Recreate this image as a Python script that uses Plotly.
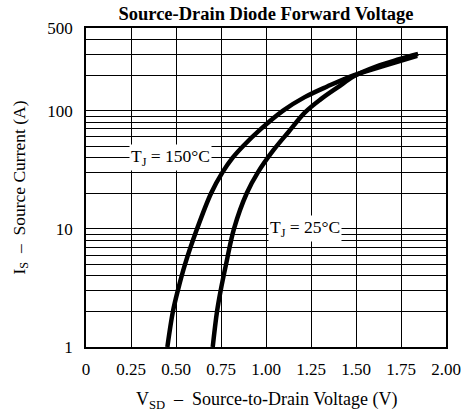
import math
import plotly.graph_objects as go

# Data
v_150 = [0.452, 0.483, 0.51, 0.55, 0.617, 0.695, 0.758, 0.815, 0.872, 0.972, 1.095, 1.215, 1.34, 1.49, 1.66, 1.84]
i_150 = [1, 2, 3, 5, 10, 20, 30, 40, 50, 70, 100, 130, 160, 200, 240, 290]
v_25 = [0.704, 0.728, 0.748, 0.778, 0.822, 0.893, 0.955, 1.04, 1.125, 1.218, 1.305, 1.40, 1.49, 1.615, 1.74, 1.845]
i_25 = [1, 2, 3, 5, 10, 20, 30, 46, 66, 97, 125, 158, 196, 237, 272, 302]

x_ticks = [0, 0.25, 0.5, 0.75, 1.0, 1.25, 1.5, 1.75, 2.0]
x_ticktext = ["0", "0.25", "0.50", "0.75", "1.00", "1.25", "1.50", "1.75", "2.00"]
y_grid = [1, 2, 3, 4, 5, 6, 7, 8, 9, 10, 20, 30, 40, 50, 60, 70, 80, 90, 100, 200, 300, 400, 500]
y_labels = {1: "1", 10: "10", 100: "100", 500: "500"}

FONT = "Liberation Serif"

fig = go.Figure()
fig.add_trace(go.Scatter(x=v_150, y=i_150, mode="lines",
                         line=dict(color="black", width=4.5, shape="spline", smoothing=1),
                         showlegend=False, hoverinfo="skip"))
fig.add_trace(go.Scatter(x=v_25, y=i_25, mode="lines",
                         line=dict(color="black", width=4.5, shape="spline", smoothing=1),
                         showlegend=False, hoverinfo="skip"))

fig.update_layout(
    width=463, height=415,
    margin=dict(l=86, r=17, t=28, b=68),
    paper_bgcolor="white", plot_bgcolor="white",
    font=dict(family=FONT, color="black", size=17),
    title=dict(text="<b>Source-Drain Diode Forward Voltage</b>", x=0.5, xref="paper",
               y=1 - 14 / 415, yref="container", xanchor="center", yanchor="middle",
               font=dict(family=FONT, size=18.5, color="black")),
)

fig.update_xaxes(range=[0, 2.0], tickvals=x_ticks, ticktext=x_ticktext,
                 showgrid=True, gridcolor="black", gridwidth=1.3,
                 showline=True, linecolor="black", linewidth=1.5, mirror=True,
                 zeroline=False, ticks="", ticklabelstandoff=6, automargin=False,
                 tickfont=dict(family=FONT, size=17))
fig.update_yaxes(type="log", range=[0, math.log10(500)], tickvals=y_grid,
                 ticktext=[y_labels.get(v, "") for v in y_grid],
                 showgrid=True, gridcolor="black", gridwidth=1.3,
                 showline=True, linecolor="black", linewidth=1.5, mirror=True,
                 zeroline=False, ticks="", ticklabelstandoff=8, automargin=False,
                 tickfont=dict(family=FONT, size=17))

fig.add_annotation(x=0.467, y=math.log10(40), text="T<sub>J</sub> = 150°C", showarrow=False,
                   bgcolor="white", font=dict(family=FONT, size=17.5), borderpad=1)
fig.add_annotation(x=1.217, y=math.log10(10), text="T<sub>J</sub> = 25°C", showarrow=False,
                   bgcolor="white", font=dict(family=FONT, size=17.5), borderpad=1)

fig.add_annotation(x=0.5, xref="paper", y=-(400 - 347) / (347 - 28), yref="paper",
                   text="V<sub>SD</sub>  –  Source-to-Drain Voltage (V)", showarrow=False,
                   yanchor="middle", font=dict(family=FONT, size=18))
fig.add_annotation(x=-(86 - 20) / (446 - 86), xref="paper", y=0.5, yref="paper",
                   text="I<sub>S</sub>  –  Source Current (A)", showarrow=False, textangle=-90,
                   xanchor="center", font=dict(family=FONT, size=17.5))

fig.write_html("out.html")
